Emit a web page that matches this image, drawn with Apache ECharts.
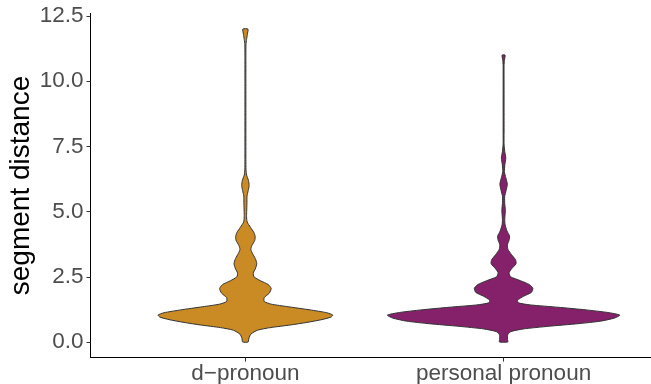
<!DOCTYPE html>
<html>
<head>
<meta charset="utf-8">
<script src="https://cdn.jsdelivr.net/npm/echarts@6/dist/echarts.min.js"></script>
<style>
  html, body { margin: 0; padding: 0; background: #ffffff; }
  #chart { width: 651px; height: 384px; }
</style>
</head>
<body>
<div id="chart"></div>
<script>
// Groups shown on the horizontal axis
const categories = ['d\u2212pronoun', 'personal pronoun'];
const fillColors = ['#CA8A24', '#85216B'];
const yTicks = [0, 2.5, 5, 7.5, 10, 12.5];

// Density profile of each group: distance levels and scaled density (1 = widest violin)
const dPronounLevels = [0, 0.15, 0.3, 0.45, 0.55, 0.65, 0.75, 0.85, 0.95, 1.03, 1.12, 1.23, 1.35, 1.45, 1.55, 1.7, 1.87, 2.05, 2.2, 2.35, 2.5, 2.65, 2.8, 3.0, 3.2, 3.4, 3.55, 3.7, 3.9, 4.05, 4.2, 4.4, 4.6, 4.8, 5.0, 5.3, 5.6, 5.8, 6.0, 6.2, 6.4, 6.6, 7.0, 8.0, 9.0, 10.0, 11.0, 11.4, 11.6, 11.8, 12.0];
const dPronounDensity = [0.024, 0.030, 0.047, 0.103, 0.214, 0.385, 0.530, 0.650, 0.735, 0.752, 0.701, 0.556, 0.368, 0.222, 0.162, 0.162, 0.205, 0.222, 0.197, 0.128, 0.073, 0.068, 0.085, 0.098, 0.085, 0.060, 0.047, 0.056, 0.081, 0.084, 0.073, 0.043, 0.015, 0.010, 0.011, 0.013, 0.014, 0.024, 0.032, 0.026, 0.010, 0.005, 0.004, 0.004, 0.004, 0.004, 0.004, 0.005, 0.010, 0.017, 0.022];

const personalLevels = [0, 0.1, 0.2, 0.3, 0.4, 0.5, 0.6, 0.7, 0.8, 0.92, 1.03, 1.13, 1.23, 1.33, 1.42, 1.5, 1.6, 1.75, 1.9, 2.06, 2.2, 2.35, 2.5, 2.65, 2.8, 3.0, 3.15, 3.35, 3.55, 3.72, 3.9, 4.06, 4.25, 4.49, 4.7, 5.05, 5.3, 5.57, 5.8, 6.05, 6.3, 6.53, 6.8, 7.05, 7.3, 7.6, 8.0, 9.0, 10.0, 10.6, 10.8, 11.0];
const personalDensity = [0.036, 0.034, 0.033, 0.038, 0.064, 0.171, 0.385, 0.641, 0.838, 0.957, 1.000, 0.897, 0.709, 0.470, 0.231, 0.128, 0.120, 0.171, 0.239, 0.252, 0.222, 0.145, 0.060, 0.047, 0.068, 0.107, 0.103, 0.068, 0.038, 0.032, 0.047, 0.051, 0.030, 0.013, 0.010, 0.015, 0.010, 0.009, 0.021, 0.032, 0.019, 0.007, 0.011, 0.019, 0.010, 0.004, 0.004, 0.004, 0.004, 0.004, 0.007, 0.013];

const groups = [
  { x: 1, levels: dPronounLevels, density: dPronounDensity },
  { x: 2, levels: personalLevels, density: personalDensity }
];

const halfWidth = 0.45; // half of the maximum violin width, in category units

const chart = echarts.init(document.getElementById('chart'), null, { renderer: 'canvas' });

const labelFont = 'Liberation Sans, Arial, Helvetica, sans-serif';

chart.setOption({
  backgroundColor: '#ffffff',
  animation: false,
  grid: { left: 90.5, top: 13.4, width: 568, height: 344.2, outerBoundsMode: 'none', containLabel: false },
  xAxis: {
    type: 'value',
    min: 0.4,
    max: 2.6,
    splitLine: { show: false },
    axisLine: { show: true, onZero: false, lineStyle: { color: '#000000', width: 1 } },
    axisTick: { show: true, customValues: [1, 2], length: 4, lineStyle: { color: '#333333', width: 1 } },
    axisLabel: {
      customValues: [1, 2],
      formatter: v => categories[Math.round(v) - 1],
      color: '#4D4D4D',
      fontSize: 22.5,
      fontFamily: labelFont,
      margin: 5
    }
  },
  yAxis: {
    type: 'value',
    min: -0.6,
    max: 12.6,
    name: 'segment distance',
    nameLocation: 'middle',
    nameGap: 55,
    nameMoveOverlap: false,
    nameTextStyle: { color: '#000000', fontSize: 28, fontFamily: labelFont },
    splitLine: { show: false },
    axisLine: { show: true, onZero: false, lineStyle: { color: '#000000', width: 1 } },
    axisTick: { show: true, customValues: yTicks, length: 4, lineStyle: { color: '#333333', width: 1 } },
    axisLabel: {
      customValues: yTicks,
      formatter: v => v.toFixed(1),
      color: '#4D4D4D',
      fontSize: 22.5,
      fontFamily: labelFont,
      margin: 7
    }
  },
  series: [{
    type: 'custom',
    coordinateSystem: 'cartesian2d',
    data: groups.map((g, i) => [g.x, i]),
    encode: { x: 0, y: 1 },
    renderItem: function (params, api) {
      const idx = params.dataIndex;
      const g = groups[idx];
      const left = [];
      const right = [];
      for (let k = 0; k < g.levels.length; k++) {
        const w = g.density[k] * halfWidth;
        right.push(api.coord([g.x + w, g.levels[k]]));
        left.push(api.coord([g.x - w, g.levels[k]]));
      }
      const points = right.concat(left.reverse());
      return {
        type: 'polygon',
        shape: { points: points, smooth: 0.2 },
        style: { fill: fillColors[idx], stroke: '#333333', lineWidth: 1 }
      };
    }
  }]
});
</script>
</body>
</html>
